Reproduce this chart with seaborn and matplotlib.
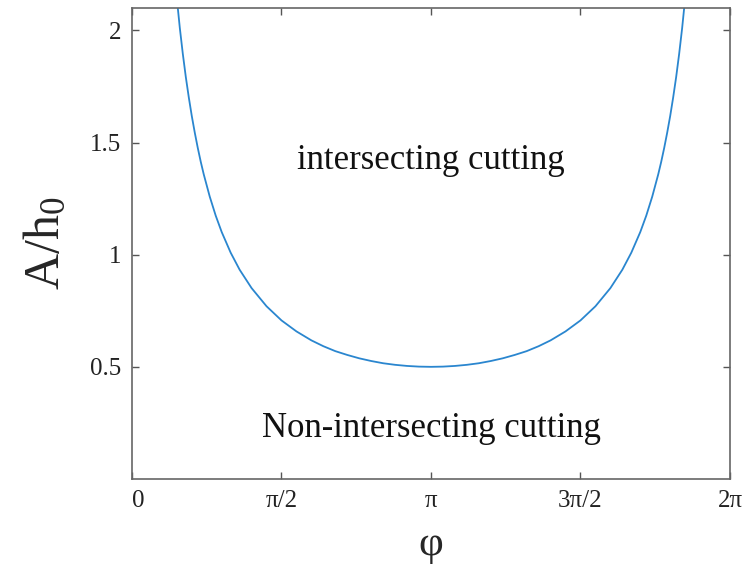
import numpy as np
import pandas as pd
import matplotlib
matplotlib.use("Agg")
import matplotlib.pyplot as plt
import matplotlib.transforms as mtransforms
import seaborn as sns

# phase angle in units of pi (left branch, the right branch mirrors it about pi)
phi_left = [0.15, 0.16, 0.17, 0.18, 0.19, 0.20, 0.21, 0.22, 0.23, 0.24, 0.26,
            0.28, 0.30, 0.33, 0.36, 0.40, 0.45, 0.50, 0.55, 0.60, 0.64, 0.68,
            0.72, 0.76, 0.80, 0.84, 0.88, 0.92, 0.96, 1.00]
# critical amplitude ratio A/h0 on the left branch
ratio_left = [2.142, 2.010, 1.895, 1.792, 1.701, 1.618, 1.544, 1.476, 1.414,
              1.358, 1.259, 1.174, 1.101, 1.009, 0.933, 0.851, 0.770, 0.707,
              0.658, 0.618, 0.592, 0.570, 0.553, 0.538, 0.526, 0.516, 0.509,
              0.504, 0.501, 0.500]

phi_right = [1.04, 1.08, 1.12, 1.16, 1.20, 1.24, 1.28, 1.32, 1.36, 1.40, 1.45,
             1.50, 1.55, 1.60, 1.64, 1.67, 1.70, 1.72, 1.74, 1.76, 1.77, 1.78,
             1.79, 1.80, 1.81, 1.82, 1.83, 1.84, 1.85]
ratio_right = [0.501, 0.504, 0.509, 0.516, 0.526, 0.538, 0.553, 0.570, 0.592,
               0.618, 0.658, 0.707, 0.770, 0.851, 0.933, 1.009, 1.101, 1.174,
               1.259, 1.358, 1.414, 1.476, 1.544, 1.618, 1.701, 1.792, 1.895,
               2.010, 2.142]

x_ticks = [0, 0.5, 1, 1.5, 2]
x_tick_labels = ["0", "π/2", "π", "3π/2", "2π"]
y_ticks = [0.5, 1, 1.5, 2]
y_tick_labels = ["0.5", "1", "1.5", "2"]

df = pd.DataFrame({"phi": phi_left + phi_right,
                   "ratio": ratio_left + ratio_right})

sns.set_theme(style="ticks")
plt.rcParams["font.family"] = ["Liberation Serif", "DejaVu Serif"]
plt.rcParams["mathtext.fontset"] = "custom"
plt.rcParams["mathtext.rm"] = "Liberation Serif"
plt.rcParams["mathtext.it"] = "Liberation Serif:italic"

fig = plt.figure(figsize=(7.5, 5.69), dpi=100)
ax = fig.add_axes([0.176, 0.1582, 0.7973, 0.8278])

sns.lineplot(data=df, x="phi", y="ratio", sort=False, ax=ax,
             color="#2a86cf", linewidth=1.3)

ax.set_xlim(0, 2)
ax.set_ylim(0, 2.1)
ax.set_xticks(x_ticks)
ax.set_xticklabels(x_tick_labels)
ax.set_yticks(y_ticks)
ax.set_yticklabels(y_tick_labels)

for side in ["left", "right", "top", "bottom"]:
    ax.spines[side].set_visible(True)
    ax.spines[side].set_color("#666666")
    ax.spines[side].set_linewidth(1.2)

ax.tick_params(axis="both", which="major", direction="in", length=5,
               width=1.0, color="#555555", labelsize=18, labelcolor="#222222",
               top=True, right=True, labeltop=False, labelright=False)
ax.tick_params(axis="x", pad=8)
ax.tick_params(axis="y", pad=8)

# nudge the origin label a little to the right of the corner
first = ax.get_xticklabels()[0]
first.set_transform(first.get_transform() +
                    mtransforms.ScaledTranslation(6 / 100, 0, fig.dpi_scale_trans))

ax.set_xlabel("φ", fontsize=31, labelpad=10)
ax.set_ylabel(r"$\mathrm{A/h_0}$", fontsize=36, labelpad=14)

ax.text(1.0, 1.42, "intersecting cutting", ha="center", va="center",
        fontsize=25, color="#111111")
ax.text(1.0, 0.225, "Non-intersecting cutting", ha="center", va="center",
        fontsize=25, color="#111111")

fig.savefig("out.png", dpi=100)
